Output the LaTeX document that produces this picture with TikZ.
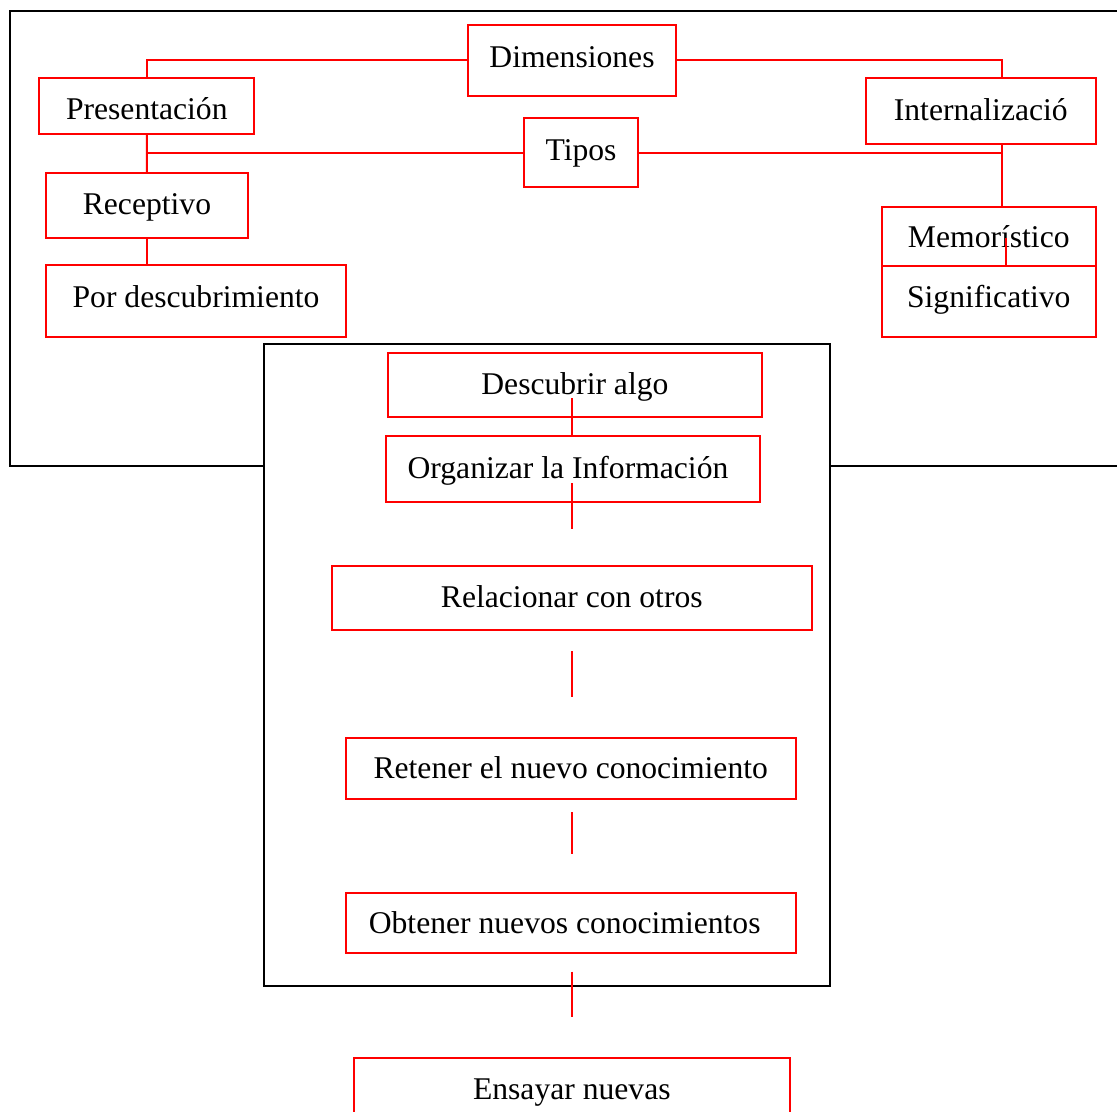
\documentclass[tikz,border=0pt]{standalone}
\usepackage{fontspec}
\setmainfont{Liberation Serif}
\usetikzlibrary{calc}
\newcommand\rbox[8]{\node[redbox, minimum width={(#4-#2)*0.02cm}, minimum height={(#5-#3)*0.02cm},
  label={[name=#1t, shift={(#6,#7)}]center:#8}] (#1) at ({(#2+#4)/2},{(#3+#5)/2}) {};}
\begin{document}
\begin{tikzpicture}[x=0.02cm,y=-0.02cm,
  redbox/.style={draw=red, line width=1.1pt, outer sep=0pt, inner sep=0pt, fill=white},
  every label/.style={font=\fontsize{18pt}{21pt}\selectfont, inner sep=0pt},
  link/.style={draw=red, line width=1.1pt},
  frame/.style={draw=black, line width=1.1pt}]
\clip (0,0) rectangle (1117,1112);
\fill[white] (0,0) rectangle (1117,1112);
% outer frame
\draw[frame] (1130,11) -- (9.6,11) -- (9.6,466) -- (1130,466);
% top boxes
\rbox{dim}{468}{25}{676}{95.7}{0}{-3}{Dimensiones}
\rbox{pres}{39.3}{77.7}{254.3}{134.3}{0}{3}{Presentación}
\rbox{tipos}{523.6}{118.3}{638.4}{187}{0}{1}{Tipos}
\rbox{intl}{865.6}{78}{1096}{144}{0}{-1}{Internalizació}
\rbox{rec}{45.7}{173}{248.2}{237.7}{0}{2}{Receptivo}
\rbox{desc}{45.7}{265.3}{346.4}{337.3}{0}{-5}{Por descubrimiento}
\rbox{mem}{881.6}{206.7}{1096}{265.7}{0}{0}{Memorístico}
\rbox{sig}{881.6}{265.7}{1096}{337.3}{0}{-2}{Significativo}
% top connectors
\coordinate (rx) at (1002,0);
\coordinate (mx) at (1005.6,0);
\draw[link] (dim.west) -| (pres.north);
\draw[link] (dim.east) -| (intl.north -| rx);
\draw[link] (pres.south) -- (rec.north);
\draw[link] (tipos.west) -- (tipos.west -| pres.south);
\draw[link] (tipos.east) -- (tipos.east -| rx);
\draw[link] (intl.south -| rx) -- (mem.north -| rx);
\draw[link] (rec.south) -- (rec.south |- desc.north);
\draw[link] (mem.south -| mx) -- ++(0,-27.7);
% inner frame
\node[frame, fill=white, inner sep=0pt, outer sep=0pt,
  minimum width={566*0.02cm}, minimum height={641.7*0.02cm}] (proc) at (547,665.15) {};
% inner boxes
\rbox{da}{387.8}{353.3}{762}{417.3}{0}{2}{Descubrir algo}
\rbox{oi}{385.9}{436}{760.1}{502.3}{-5}{2}{Organizar la Información}
\rbox{rc}{331.8}{566}{811.8}{630}{0}{-1}{Relacionar con otros}
\rbox{rt}{345.7}{737.7}{795.7}{799.3}{0}{-1}{Retener el nuevo conocimiento}
\rbox{ob}{345.7}{892.7}{795.7}{952.7}{-6}{0}{Obtener nuevos conocimientos}
\rbox{en}{353.7}{1057.7}{790}{1119.7}{0}{4}{Ensayar nuevas}
% inner connectors
\coordinate (ax) at (572,0);
\draw[link] (oi.north -| ax) -- ++(0,-37.7);
\draw[link] (oi.south -| ax) ++(0,-19) -- ++(0,45.7);
\draw[link] (rc.south -| ax) ++(0,21) -- ++(0,45.7);
\draw[link] (rt.south -| ax) ++(0,13) -- ++(0,41.4);
\draw[link] (ob.south -| ax) ++(0,19) -- ++(0,45);
\end{tikzpicture}
\end{document}
